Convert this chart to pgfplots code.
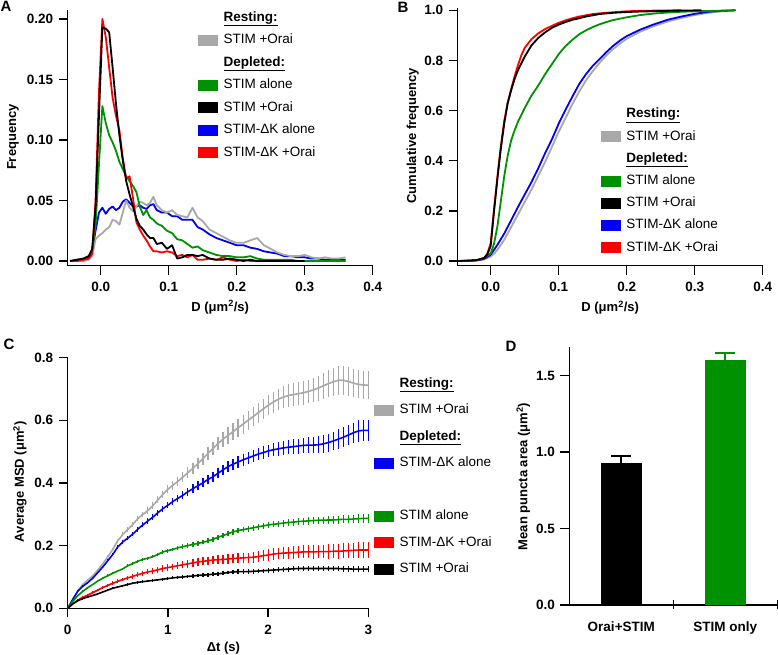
\documentclass[border=0pt]{standalone}
\usepackage{pgfplots}
\pgfplotsset{compat=1.18}
\usepackage{pgfplotstable}
\usepackage{fontspec}
\setmainfont{Liberation Sans}
\definecolor{mygrey}{RGB}{168,168,168}
\definecolor{mygreen}{RGB}{0,145,0}
\definecolor{myblue}{RGB}{0,0,245}
\definecolor{myred}{RGB}{250,0,0}
\newcommand{\swatch}[1]{\addlegendimage{legend image code/.code={\fill[#1] (0pt,-5pt) rectangle (19pt,5pt);}}}
\newcommand{\hdr}[1]{\addlegendimage{empty legend}\addlegendentry{\textbf{\underline{#1}}}}
\newcommand{\lblfont}{\fontsize{13}{15}\selectfont\bfseries}
\newcommand{\tckfont}{\fontsize{13.5}{15}\selectfont\bfseries}

% Panel A histogram: x gr bl gn rd bk
\pgfplotstableread{
x gr bl gn rd bk
-0.045 0.000 0.000 0.000 0.000 0.000
-0.035 0.000 0.000 0.001 0.000 0.001
-0.025 0.000 0.001 0.002 0.001 0.002
-0.0175 0.001 0.003 0.004 0.002 0.004
-0.0125 0.004 0.008 0.009 0.006 0.010
-0.0075 0.018 0.025 0.030 0.050 0.045
-0.0025 0.021 0.040 0.080 0.140 0.120
0.0025 0.023 0.044 0.128 0.200 0.193
0.0075 0.026 0.039 0.114 0.185 0.192
0.0125 0.028 0.043 0.104 0.160 0.189
0.0175 0.034 0.045 0.098 0.135 0.160
0.0225 0.033 0.042 0.091 0.120 0.130
0.0275 0.030 0.044 0.082 0.108 0.104
0.0325 0.040 0.049 0.076 0.085 0.083
0.0375 0.050 0.051 0.070 0.068 0.066
0.0425 0.044 0.048 0.066 0.070 0.055
0.0475 0.041 0.045 0.062 0.052 0.045
0.0525 0.045 0.045 0.057 0.032 0.035
0.0575 0.049 0.046 0.045 0.026 0.029
0.0625 0.048 0.044 0.038 0.021 0.026
0.0675 0.046 0.043 0.042 0.017 0.022
0.0725 0.048 0.046 0.036 0.012 0.019
0.0775 0.053 0.047 0.034 0.008 0.019
0.0825 0.046 0.042 0.031 0.008 0.014
0.0900 0.042 0.040 0.029 0.007 0.015
0.0975 0.040 0.040 0.025 0.008 0.010
0.1050 0.042 0.037 0.023 0.007 0.013
0.1125 0.038 0.037 0.018 0.004 0.002
0.1200 0.037 0.034 0.017 0.005 0.003
0.1275 0.036 0.034 0.014 0.003 0.005
0.1350 0.044 0.034 0.011 0.005 0.005
0.1425 0.036 0.028 0.012 0.001 0.004
0.1500 0.033 0.026 0.009 0.001 0.005
0.16 0.026 0.022 0.007 0.002 0.002
0.17 0.023 0.019 0.005 0.001 0.001
0.18 0.020 0.017 0.004 0.003 0.001
0.19 0.017 0.015 0.004 0.001 0.002
0.20 0.015 0.013 0.003 0.000 0.001
0.21 0.015 0.013 0.003 0.001 0.000
0.22 0.017 0.011 0.004 0.000 0.001
0.23 0.019 0.010 0.002 0.000 0.000
0.24 0.013 0.008 0.001 0.001 0.000
0.25 0.010 0.007 0.001 0.000 0.000
0.26 0.007 0.006 0.001 0.000 0.000
0.27 0.005 0.004 0.001 0.000 0.000
0.28 0.004 0.004 0.001 0.000 0.000
0.29 0.004 0.003 0.000 nan 0.000
0.30 0.005 0.003 0.000 nan 0.000
0.31 0.003 0.002 0.000 nan nan
0.32 0.002 0.002 0.000 nan nan
0.33 0.003 0.001 0.000 nan nan
0.34 0.002 0.001 0.000 nan nan
0.35 0.002 0.001 0.000 nan nan
0.36 0.003 0.001 0.000 nan nan
}\histA

% Panel B cumulative curves
\pgfplotstableread{
x y
-0.048 0.000
-0.03 0.000
-0.02 0.002
-0.01 0.006
0.0 0.018
0.005 0.030
0.01 0.045
0.02 0.085
0.03 0.135
0.04 0.185
0.05 0.235
0.06 0.285
0.07 0.340
0.08 0.395
0.09 0.455
0.10 0.515
0.11 0.570
0.12 0.625
0.13 0.675
0.14 0.720
0.15 0.757
0.16 0.790
0.17 0.820
0.18 0.845
0.19 0.867
0.20 0.886
0.22 0.915
0.24 0.937
0.26 0.955
0.28 0.969
0.30 0.981
0.32 0.990
0.34 0.996
0.36 1.000
}\cumGrey
\pgfplotstableread{
x y
-0.048 0.000
-0.03 0.001
-0.02 0.003
-0.01 0.008
0.0 0.025
0.005 0.045
0.01 0.065
0.02 0.110
0.03 0.162
0.04 0.215
0.05 0.265
0.06 0.315
0.07 0.370
0.08 0.430
0.09 0.485
0.10 0.548
0.11 0.603
0.12 0.655
0.13 0.705
0.14 0.745
0.15 0.778
0.16 0.805
0.17 0.833
0.18 0.858
0.19 0.879
0.20 0.897
0.22 0.923
0.24 0.944
0.26 0.962
0.28 0.975
0.30 0.986
0.32 0.994
0.34 0.998
0.36 1.000
}\cumBlue
\pgfplotstableread{
x y
-0.048 0.000
-0.03 0.002
-0.02 0.004
-0.01 0.012
0.0 0.030
0.005 0.070
0.01 0.140
0.015 0.240
0.02 0.340
0.025 0.420
0.03 0.480
0.035 0.520
0.04 0.555
0.05 0.610
0.06 0.660
0.07 0.700
0.08 0.745
0.09 0.785
0.10 0.825
0.11 0.857
0.12 0.882
0.13 0.904
0.14 0.920
0.15 0.933
0.16 0.944
0.17 0.953
0.18 0.961
0.20 0.972
0.22 0.981
0.24 0.987
0.26 0.991
0.28 0.994
0.30 0.996
0.33 0.998
0.36 1.000
}\cumGreen
\pgfplotstableread{
x y
-0.048 0.000
-0.03 0.001
-0.02 0.003
-0.01 0.010
-0.005 0.030
0.0 0.070
0.005 0.210
0.01 0.340
0.015 0.460
0.02 0.560
0.025 0.630
0.03 0.685
0.035 0.735
0.04 0.780
0.045 0.820
0.05 0.850
0.06 0.885
0.07 0.908
0.08 0.925
0.09 0.938
0.10 0.950
0.11 0.960
0.12 0.968
0.13 0.975
0.14 0.980
0.15 0.985
0.16 0.988
0.18 0.992
0.20 0.996
0.22 0.998
0.25 0.999
0.28 1.000
}\cumRed
\pgfplotstableread{
x y
-0.048 0.000
-0.03 0.002
-0.02 0.004
-0.01 0.012
-0.005 0.025
0.0 0.060
0.005 0.200
0.01 0.330
0.015 0.450
0.02 0.550
0.025 0.630
0.03 0.680
0.035 0.725
0.04 0.760
0.05 0.815
0.06 0.860
0.07 0.890
0.08 0.912
0.09 0.930
0.10 0.943
0.11 0.953
0.12 0.962
0.13 0.968
0.14 0.975
0.15 0.980
0.16 0.985
0.18 0.990
0.20 0.993
0.22 0.995
0.25 0.997
0.28 0.999
0.31 1.000
}\cumBlack

% Panel C MSD: t, mean and error for each condition
\pgfplotstableread{
t gr gre bl ble gn gne rd rde bk bke
0.00 0.000 0.000 0.000 0.000 0.000 0.000 0.000 0.000 0.000 0.000
0.05 0.028 0.003 0.028 0.003 0.022 0.002 0.014 0.002 0.014 0.002
0.10 0.056 0.003 0.054 0.003 0.040 0.002 0.026 0.003 0.024 0.002
0.15 0.076 0.003 0.070 0.003 0.054 0.003 0.035 0.003 0.031 0.002
0.20 0.090 0.003 0.082 0.003 0.066 0.003 0.042 0.004 0.036 0.003
0.25 0.104 0.003 0.096 0.003 0.076 0.003 0.050 0.004 0.041 0.003
0.30 0.122 0.003 0.114 0.003 0.087 0.003 0.058 0.004 0.046 0.003
0.35 0.142 0.004 0.132 0.004 0.096 0.003 0.066 0.005 0.052 0.003
0.40 0.164 0.005 0.152 0.004 0.104 0.004 0.073 0.005 0.058 0.003
0.45 0.188 0.005 0.172 0.005 0.112 0.004 0.080 0.006 0.064 0.003
0.50 0.216 0.006 0.196 0.006 0.119 0.004 0.086 0.006 0.068 0.003
0.55 0.236 0.006 0.212 0.006 0.126 0.004 0.092 0.006 0.072 0.003
0.60 0.252 0.007 0.224 0.007 0.136 0.004 0.097 0.007 0.076 0.004
0.65 0.268 0.008 0.237 0.007 0.143 0.005 0.102 0.007 0.080 0.004
0.70 0.286 0.008 0.253 0.008 0.150 0.005 0.107 0.008 0.083 0.004
0.75 0.300 0.009 0.266 0.008 0.156 0.005 0.112 0.008 0.085 0.004
0.80 0.312 0.010 0.279 0.009 0.160 0.005 0.116 0.008 0.087 0.004
0.85 0.328 0.011 0.291 0.009 0.165 0.005 0.119 0.009 0.089 0.004
0.90 0.346 0.011 0.305 0.010 0.172 0.006 0.123 0.009 0.091 0.004
0.95 0.364 0.012 0.318 0.010 0.180 0.006 0.127 0.010 0.093 0.005
1.00 0.380 0.013 0.329 0.010 0.184 0.006 0.130 0.010 0.095 0.005
1.05 0.393 0.014 0.341 0.011 0.188 0.006 0.133 0.010 0.097 0.005
1.10 0.405 0.015 0.351 0.012 0.193 0.006 0.136 0.011 0.099 0.005
1.15 0.419 0.016 0.361 0.012 0.197 0.007 0.139 0.011 0.100 0.005
1.20 0.433 0.017 0.372 0.013 0.200 0.007 0.142 0.012 0.102 0.005
1.25 0.447 0.018 0.382 0.014 0.204 0.007 0.145 0.012 0.103 0.005
1.30 0.462 0.018 0.391 0.014 0.207 0.007 0.148 0.012 0.105 0.006
1.35 0.478 0.019 0.401 0.015 0.211 0.007 0.150 0.013 0.106 0.006
1.40 0.494 0.020 0.411 0.015 0.215 0.008 0.152 0.013 0.107 0.006
1.45 0.510 0.021 0.420 0.016 0.220 0.008 0.154 0.014 0.109 0.006
1.50 0.526 0.022 0.431 0.016 0.227 0.008 0.155 0.014 0.110 0.006
1.55 0.540 0.024 0.442 0.017 0.232 0.008 0.156 0.014 0.112 0.006
1.60 0.552 0.026 0.452 0.017 0.238 0.008 0.157 0.015 0.114 0.006
1.65 0.564 0.028 0.460 0.018 0.244 0.009 0.159 0.015 0.116 0.006
1.70 0.576 0.029 0.467 0.018 0.248 0.009 0.160 0.016 0.117 0.007
1.75 0.588 0.030 0.474 0.019 0.251 0.009 0.161 0.016 0.117 0.007
1.80 0.600 0.030 0.480 0.019 0.254 0.009 0.162 0.016 0.117 0.007
1.85 0.612 0.031 0.486 0.019 0.257 0.009 0.163 0.017 0.118 0.007
1.90 0.624 0.031 0.492 0.020 0.260 0.010 0.165 0.017 0.119 0.007
1.95 0.636 0.032 0.497 0.020 0.263 0.010 0.168 0.018 0.120 0.007
2.00 0.648 0.032 0.502 0.020 0.266 0.010 0.170 0.018 0.121 0.007
2.05 0.658 0.033 0.506 0.021 0.268 0.010 0.173 0.018 0.122 0.008
2.10 0.667 0.034 0.509 0.022 0.270 0.010 0.175 0.019 0.123 0.008
2.15 0.674 0.035 0.512 0.022 0.272 0.011 0.176 0.019 0.124 0.008
2.20 0.679 0.036 0.514 0.023 0.274 0.011 0.177 0.020 0.125 0.008
2.25 0.682 0.036 0.516 0.023 0.275 0.011 0.178 0.020 0.126 0.008
2.30 0.685 0.037 0.518 0.024 0.277 0.011 0.179 0.020 0.127 0.008
2.35 0.688 0.038 0.520 0.025 0.278 0.011 0.180 0.021 0.127 0.008
2.40 0.692 0.038 0.521 0.026 0.279 0.012 0.180 0.021 0.127 0.008
2.45 0.697 0.039 0.521 0.026 0.280 0.012 0.180 0.022 0.127 0.009
2.50 0.703 0.040 0.522 0.027 0.281 0.012 0.181 0.022 0.127 0.009
2.55 0.710 0.042 0.525 0.028 0.281 0.012 0.181 0.022 0.127 0.009
2.60 0.717 0.044 0.529 0.029 0.282 0.012 0.181 0.023 0.127 0.009
2.65 0.723 0.045 0.534 0.030 0.282 0.013 0.182 0.023 0.127 0.009
2.70 0.728 0.046 0.540 0.031 0.283 0.013 0.182 0.024 0.127 0.009
2.75 0.728 0.046 0.546 0.032 0.284 0.013 0.183 0.024 0.126 0.009
2.80 0.724 0.045 0.553 0.032 0.284 0.013 0.184 0.024 0.126 0.010
2.85 0.719 0.045 0.560 0.033 0.285 0.013 0.185 0.025 0.125 0.010
2.90 0.715 0.045 0.566 0.034 0.286 0.014 0.186 0.025 0.125 0.010
2.95 0.713 0.044 0.568 0.034 0.287 0.014 0.186 0.026 0.125 0.010
3.00 0.712 0.044 0.568 0.034 0.287 0.014 0.186 0.026 0.125 0.010
}\msd

\pgfplotsset{
  igor/.style={
    scale only axis, anchor=south west,
    axis x line*=bottom, axis y line*=left,
    axis line style={-, line width=1.3pt, black},
    tick style={line width=1.3pt, black},
    tick align=outside, major tick length=9pt,
    tick label style={font=\tckfont},
    xticklabel style={yshift=-4pt},
    yticklabel style={xshift=-2pt},
    /pgf/number format/assume math mode=true,
    scaled ticks=false,
    legend cell align=left,
    legend style={draw=none, fill=none, inner sep=0pt, column sep=5pt,
      font=\fontsize{13.5}{15}\selectfont,
      nodes={inner sep=1pt, text height=10pt, text depth=3pt}},
  },
  curve/.style={line width=1.8pt, line join=round},
}

\begin{document}
\begin{tikzpicture}
\useasboundingbox (0pt,0pt) rectangle (778pt,655pt);

% ---------- Panel A ----------
\begin{axis}[igor, at={(67.7pt,389.3pt)}, width=305pt, height=255.7pt,
  xmin=-0.0485, xmax=0.4, ymin=-0.0039, ymax=0.2074,
  xtick={0,0.1,0.2,0.3,0.4}, ytick={0,0.05,0.10,0.15,0.20},
  xticklabel style={/pgf/number format/.cd, fixed, fixed zerofill, precision=1},
  yticklabel style={/pgf/number format/.cd, fixed, fixed zerofill, precision=2},
  xlabel={D (μm\textsuperscript{2}/s)}, ylabel={Frequency},
  every axis x label/.style={at={(axis description cs:0.5,-0.162)}, anchor=center, font=\lblfont},
  every axis y label/.style={at={(axis description cs:-0.179,0.503)}, rotate=90, anchor=center, font=\lblfont},
  legend style={at={(0.427,1.0)}, anchor=north west, row sep=7.5pt},
]
\addplot[curve, myblue, forget plot] table[x=x, y=bl] {\histA};
\addplot[curve, mygrey, forget plot] table[x=x, y=gr] {\histA};
\addplot[curve, mygreen, forget plot] table[x=x, y=gn] {\histA};
\addplot[curve, myred, forget plot] table[x=x, y=rd] {\histA};
\addplot[curve, black, forget plot] table[x=x, y=bk] {\histA};
\hdr{Resting:}
\swatch{mygrey}\addlegendentry{STIM +Orai}
\hdr{Depleted:}
\swatch{mygreen}\addlegendentry{STIM alone}
\swatch{black}\addlegendentry{STIM +Orai}
\swatch{myblue}\addlegendentry{STIM-ΔK alone}
\swatch{myred}\addlegendentry{STIM-ΔK +Orai}
\end{axis}

% ---------- Panel B ----------
\begin{axis}[igor, at={(457.7pt,389.3pt)}, width=305pt, height=257.4pt,
  xmin=-0.0485, xmax=0.4, ymin=-0.0186, ymax=1.008,
  xtick={0,0.1,0.2,0.3,0.4}, ytick={0,0.2,0.4,0.6,0.8,1.0},
  xticklabel style={/pgf/number format/.cd, fixed, fixed zerofill, precision=1},
  yticklabel style={/pgf/number format/.cd, fixed, fixed zerofill, precision=1},
  xlabel={D (μm\textsuperscript{2}/s)}, ylabel={Cumulative frequency},
  every axis x label/.style={at={(axis description cs:0.5,-0.162)}, anchor=center, font=\lblfont},
  every axis y label/.style={at={(axis description cs:-0.147,0.505)}, rotate=90, anchor=center, font=\lblfont},
  legend style={at={(0.469,0.618)}, anchor=north west, row sep=7.2pt},
]
\addplot[curve, mygrey, forget plot] table {\cumGrey};
\addplot[curve, myblue, forget plot] table {\cumBlue};
\addplot[curve, mygreen, forget plot] table {\cumGreen};
\addplot[curve, myred, forget plot] table {\cumRed};
\addplot[curve, black, forget plot] table {\cumBlack};
\hdr{Resting:}
\swatch{mygrey}\addlegendentry{STIM +Orai}
\hdr{Depleted:}
\swatch{mygreen}\addlegendentry{STIM alone}
\swatch{black}\addlegendentry{STIM +Orai}
\swatch{myblue}\addlegendentry{STIM-ΔK alone}
\swatch{myred}\addlegendentry{STIM-ΔK +Orai}
\end{axis}

% ---------- Panel C ----------
\begin{axis}[igor, at={(67.7pt,46.7pt)}, width=300.6pt, height=250.6pt,
  xmin=0, xmax=3, ymin=0, ymax=0.8,
  xtick={0,1,2,3}, ytick={0,0.2,0.4,0.6,0.8},
  yticklabel style={/pgf/number format/.cd, fixed, fixed zerofill, precision=1},
  xlabel={Δt (s)}, ylabel={Average MSD (μm\textsuperscript{2})},
  every axis x label/.style={at={(axis description cs:0.518,-0.16)}, anchor=center, font=\lblfont},
  every axis y label/.style={at={(axis description cs:-0.159,0.505)}, rotate=90, anchor=center, font=\lblfont},
  legend style={at={(1.019,0.927)}, anchor=north west, row sep=11.5pt, column sep=5pt},
  clip=false,
]
\addplot[curve, mygrey, line width=1.6pt, forget plot,
  error bars/.cd, y dir=both, y explicit, error mark=none,
  error bar style={line width=1.1pt, mygrey}] table[x=t, y=gr, y error=gre] {\msd};
\addplot[curve, myblue, line width=1.6pt, forget plot,
  error bars/.cd, y dir=both, y explicit, error mark=none,
  error bar style={line width=1.1pt, myblue}] table[x=t, y=bl, y error=ble] {\msd};
\addplot[curve, mygreen, line width=1.6pt, forget plot,
  error bars/.cd, y dir=both, y explicit, error mark=none,
  error bar style={line width=1.1pt, mygreen}] table[x=t, y=gn, y error=gne] {\msd};
\addplot[curve, myred, line width=1.6pt, forget plot,
  error bars/.cd, y dir=both, y explicit, error mark=none,
  error bar style={line width=1.1pt, myred}] table[x=t, y=rd, y error=rde] {\msd};
\addplot[curve, black, line width=1.6pt, forget plot,
  error bars/.cd, y dir=both, y explicit, error mark=none,
  error bar style={line width=1.1pt, black}] table[x=t, y=bk, y error=bke] {\msd};
\hdr{Resting:}
\swatch{mygrey}\addlegendentry{STIM +Orai}
\hdr{Depleted:}
\swatch{myblue}\addlegendentry{STIM-ΔK alone}
\addlegendimage{empty legend}\addlegendentry{}
\swatch{mygreen}\addlegendentry{STIM alone}
\swatch{myred}\addlegendentry{STIM-ΔK +Orai}
\swatch{black}\addlegendentry{STIM +Orai}
\end{axis}

% ---------- Panel D ----------
\begin{axis}[igor, at={(569.3pt,50pt)}, width=208pt, height=258.3pt,
  xmin=0, xmax=2, ymin=0, ymax=1.689,
  ybar, bar width=39.3pt,
  xtick align=center,
  xtick={1,2}, xticklabels={Orai+STIM, STIM only},
  xticklabel style={xshift=-52pt, yshift=-5pt},
  ytick={0,0.5,1.0,1.5},
  yticklabel style={/pgf/number format/.cd, fixed, fixed zerofill, precision=1},
  ylabel={Mean puncta area (μm\textsuperscript{2})},
  every axis y label/.style={at={(axis description cs:-0.221,0.497)}, rotate=90, anchor=center, font=\lblfont},
]
\addplot[fill=black, draw=black, bar shift=0pt,
  error bars/.cd, y dir=plus, y explicit,
  error bar style={line width=2pt, black},
  error mark options={rotate=90, line width=2pt, mark size=10pt, black}]
  coordinates {(0.5,0.927) +- (0,0.050)};
\addplot[fill=mygreen, draw=mygreen, bar shift=0pt,
  error bars/.cd, y dir=plus, y explicit,
  error bar style={line width=2pt, mygreen},
  error mark options={rotate=90, line width=2pt, mark size=10pt, mygreen}]
  coordinates {(1.5,1.598) +- (0,0.048)};
\end{axis}

% panel letters
\node[font=\fontsize{15}{16}\selectfont\bfseries] at (6pt,649pt) {A};
\node[font=\fontsize{15}{16}\selectfont\bfseries] at (403pt,648pt) {B};
\node[font=\fontsize{15}{16}\selectfont\bfseries] at (9pt,311pt) {C};
\node[font=\fontsize{15}{16}\selectfont\bfseries] at (511pt,309pt) {D};
\end{tikzpicture}
\end{document}
